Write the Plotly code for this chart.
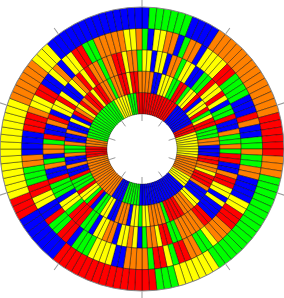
import plotly.graph_objects as go

COLORS = {"R": "#ff0000", "O": "#ff8000", "Y": "#ffff00", "G": "#00ff00", "B": "#0000ff"}
STEP = 3
tick_angles = [0, 36, 72, 108, 144, 180, 216, 252, 288, 324]

ring1 = list("RRRRRRRRRRRRRBBBBBBBBRRRYYYYYY" "YYYOOOOOOOYYYYBBBBBBBBBBBBBBBB" "BGGGGGGBBBBOOOOOOOOOOOOOOOORRR" "ROOOGGGGGGGGGGGGGGGGYYYYYGGGRR")
ring2 = list("OOOBBYYYGGRRGYYRBYYRGYRRGGGOOB" "BBRROOYRRROBBBYYOOORRRRGOOOOYY" "GYYBOOOBBYYGGBRGYYRGGGRBBOBBOG" "GOBBOBBYBROYRORRYRROOGOORRYRRO")
ring3 = list("YYBYYBOOGYYBBGGRYYRYBGGRBBOGGO" "GRRBBORRYYBYBBBRROOOOOGGRRYOOG" "BYOYYBOOYYBGGRRRGYYBGGGRBBOGBO" "OGRBBORBYYRYBBYORYROOGOORRYOOG")
ring4 = list("GBYYOOBGOOBYYYYRRGGGGBBBROBBGG" "OGGOOBBBBYYRRROOOYGGOORRGYRRGO" "OOOBBYYYYGGGBRRGGRBBYYRRGGGOOB" "BBBRRROYYRRBBYOBYYRRGGOOOOOYYO")
ring5 = list("BGGGGGGBBBBOOOOOOOOOOOOOORRRRR" "ROOOGGGGGGGGGGGGGGGYYYYYYGGGRR" "RRRRRRRRRRRRRBBBBBBBRRRYYYYYYY" "YYYYYYYOOOOOOYYYBBBBBBBBBBBBBB")
rings = [ring1, ring2, ring3, ring4, ring5]

fig = go.Figure()
for base, ring in enumerate(rings):
    fig.add_trace(go.Barpolar(
        theta=[i * STEP + STEP / 2 for i in range(len(ring))],
        r=[1] * len(ring), base=base, width=STEP,
        marker=dict(color=[COLORS[c] for c in ring], line=dict(color="rgba(0,0,0,0.8)", width=0.5)),
        hoverinfo="skip", showlegend=False))
for a in tick_angles:
    fig.add_trace(go.Scatterpolar(theta=[a, a], r=[-0.33, 0], mode="lines",
                                  line=dict(color="#999999", width=1), hoverinfo="skip", showlegend=False))
fig.update_layout(
    width=284, height=298, margin=dict(l=0, r=0, t=0, b=0), paper_bgcolor="white",
    polar=dict(
        bgcolor="white", domain=dict(x=[0, 1], y=[0, 1]), bargap=0,
        radialaxis=dict(range=[-1.64, 5], visible=False),
        angularaxis=dict(direction="clockwise", rotation=90, tickmode="array", tickvals=tick_angles,
                         ticks="outside", ticklen=7, tickcolor="#999999", tickwidth=1,
                         showticklabels=False, showgrid=False, linecolor="#888888", linewidth=1),
    ),
)
fig.write_html("out.html", config={"displayModeBar": False}, post_script="document.body.style.margin='0';")
